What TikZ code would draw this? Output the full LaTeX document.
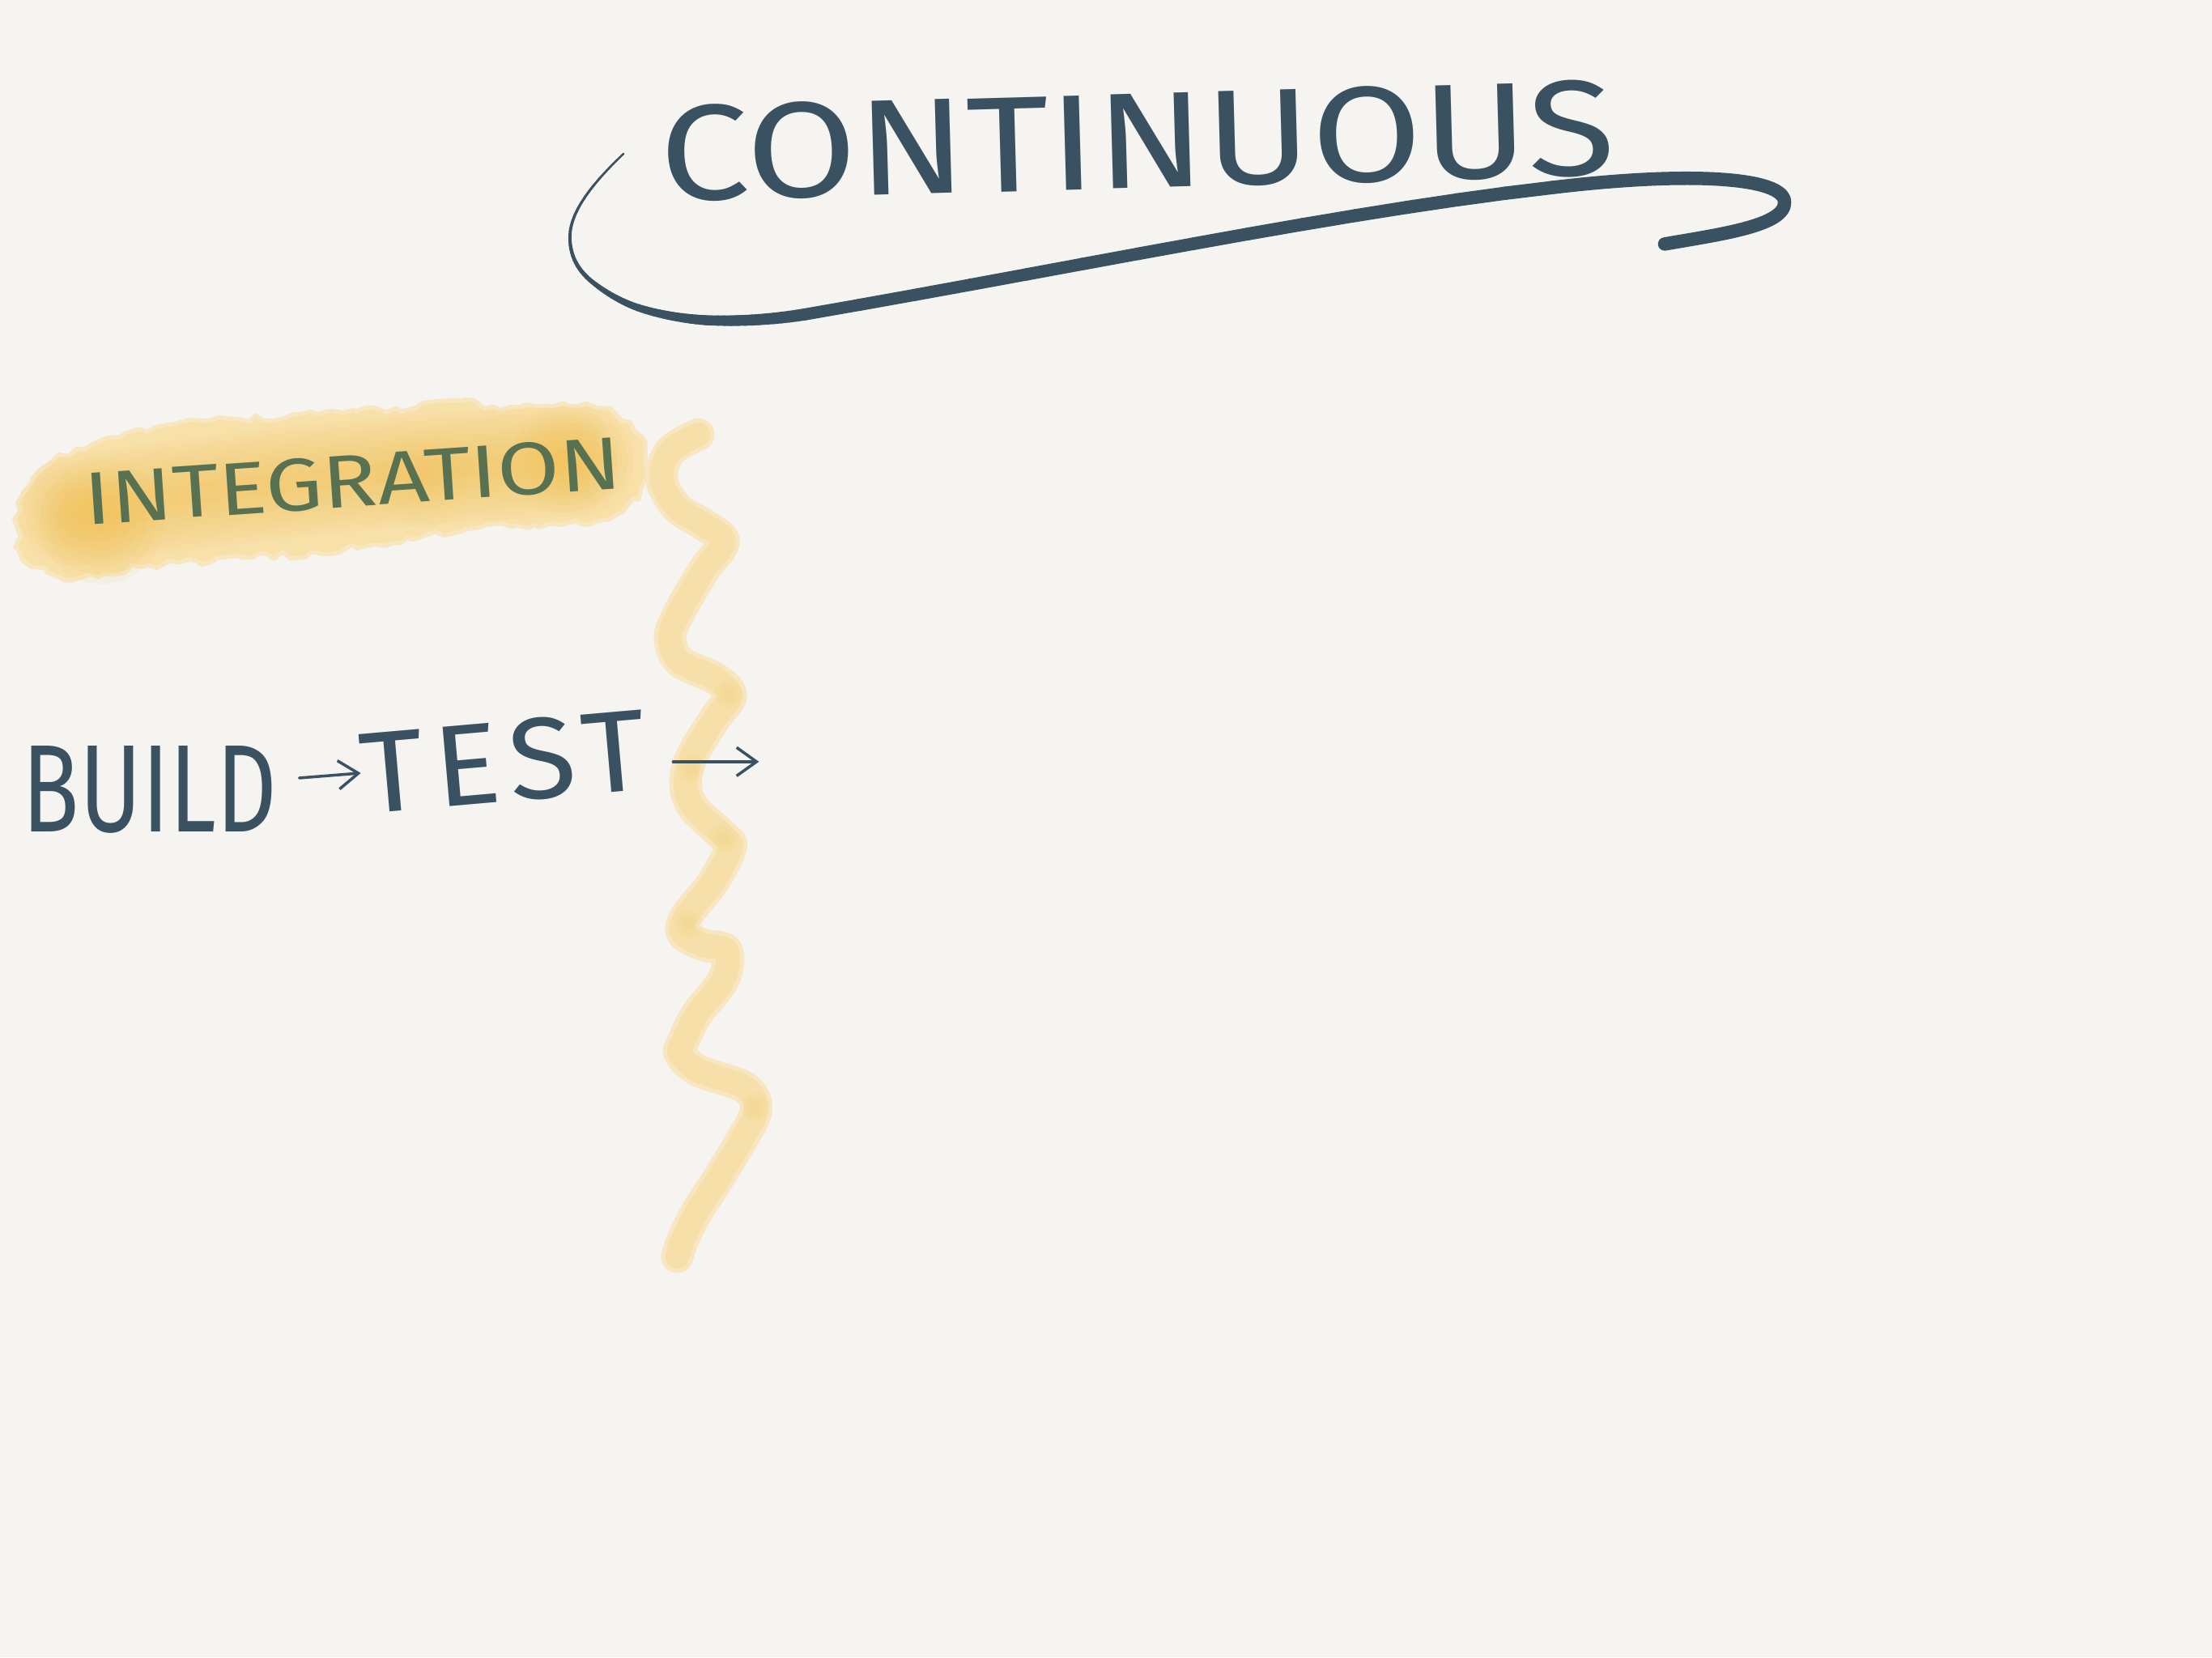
\documentclass[tikz,border=0pt]{standalone}
\usepackage{fontspec}
\usepackage{graphicx}
\setmainfont{Fira Sans}
\usetikzlibrary{arrows.meta,decorations.pathmorphing}
\definecolor{paper}{HTML}{F5F4F0}
\definecolor{slate}{HTML}{3A5161}
\definecolor{moss}{HTML}{587150}
\definecolor{glow}{HTML}{F2BE48}
\definecolor{glowmid}{HTML}{F8E0A9}
\definecolor{glowlight}{HTML}{F8E6C0}
\definecolor{trail}{HTML}{F6DFA8}
\begin{document}
\begin{tikzpicture}[x=0.017423cm, y=-0.017423cm,
  word/.style={inner sep=0pt, outer sep=0pt, anchor=center},
  ink/.style={draw=slate, line cap=round, line join=round},
  arr/.style={draw=slate, line cap=round, line join=round, line width=1pt,
    -{Straight Barb[length=7pt,width=10pt,line width=1pt]}},
  brushstroke/.style={line cap=round, line join=round},
  ragged/.style={decorate, decoration={random steps, segment length=3pt, amplitude=1.4pt}},
]
% paper
\fill[paper] (0,0) rectangle (1568,1175);
\useasboundingbox (0,0) rectangle (1568,1175);

% highlighter patch behind the second word: pale ragged patch, then a soft build-up of colour
\filldraw[fill=glowmid, draw=glowlight, line width=1.5pt, line join=round, ragged]
  plot[smooth cycle, tension=0.5] coordinates {
  (12,372) (18,348) (34,330) (55,318) (80,310) (110,303) (150,298) (200,297)
  (230,292) (260,289) (290,290) (320,284) (350,288) (380,288) (422,289) (446,300)
  (457,322) (454,346) (441,363) (420,371) (380,372) (340,374) (300,380) (260,387)
  (220,392) (180,395) (140,398) (100,402) (70,409) (46,411) (26,402) (14,390)};
\foreach \w in {78,70,...,14}
  \draw[glow, brushstroke, opacity=0.065, line width=\w*0.4957pt]
    (52,362) .. controls (150,347) and (250,336) .. (330,331) .. controls (380,328) .. (410,327);
\foreach \r in {44,38,...,2} {
  \fill[glow, opacity=0.075] (72,370) circle (\r);
  \fill[glow, opacity=0.07] (400,326) circle (\r*0.85);
}
\foreach \r in {34,28,...,4}
  \fill[glow, opacity=0.035] (300,340) circle (\r);

% wavy highlighter trail: pale edge under a slightly deeper core
\draw[glowlight, brushstroke, line width=23*0.4957pt] plot[smooth, tension=0.55] coordinates {
  (495,308) (475,320) (469,340) (480,360) (499,372) (513,384) (499,404) (480,437)
  (475,453) (482,469) (507,481) (518,493) (507,509) (490,537) (486,557) (492,573)
  (513,593) (518,601) (505,626) (486,650) (484,662) (499,670) (515,674) (513,694)
  (494,719) (484,739) (482,747) (495,759) (528,771) (536,787) (524,811) (507,839)
  (494,859) (484,879) (480,891)};
\draw[trail, brushstroke, line width=17*0.4957pt] plot[smooth, tension=0.55] coordinates {
  (495,308) (475,320) (469,340) (480,360) (499,372) (513,384) (499,404) (480,437)
  (475,453) (482,469) (507,481) (518,493) (507,509) (490,537) (486,557) (492,573)
  (513,593) (518,601) (505,626) (486,650) (484,662) (499,670) (515,674) (513,694)
  (494,719) (484,739) (482,747) (495,759) (528,771) (536,787) (524,811) (507,839)
  (494,859) (484,879) (480,891)};
\foreach \p in {(516,492),(513,594),(488,655),(535,785),(490,545)}
  \foreach \r in {10,7,4}
    \fill[glow, opacity=0.06] \p circle (\r);

% swoosh under the title: the tapering part is laid down as short chords of
% cubic segments whose width grows steadily, the rest as one thick stroke
\coordinate (G) at (1100,133);
\coordinate (H) at (1265,143);
\coordinate (I) at (1180,173);
\foreach \ax/\ay/\bx/\by/\cx/\cy/\dx/\dy/\wa/\wb in {
    442/109/420/130/404/150/404/168/0.7/1.1,
    404/168/404/182/410/192/420/200/1.1/1.6,
    420/200/430/208/442/215/455/219/1.6/2.6,
    455/219/468/223/484/226/500/227/2.6/3.5,
    500/227/520/228/545/227/570/223/3.5/4.2,
    570/223/750/192/950/150/1100/133/4.2/4.7} {
  \foreach \i in {1,...,14} {
    \pgfmathsetmacro\ta{(\i-1)/14}
    \pgfmathsetmacro\tb{\i/14}
    \pgfmathsetmacro\xa{(1-\ta)^3*\ax+3*(1-\ta)^2*\ta*\bx+3*(1-\ta)*\ta^2*\cx+\ta^3*\dx}
    \pgfmathsetmacro\ya{(1-\ta)^3*\ay+3*(1-\ta)^2*\ta*\by+3*(1-\ta)*\ta^2*\cy+\ta^3*\dy}
    \pgfmathsetmacro\xb{(1-\tb)^3*\ax+3*(1-\tb)^2*\tb*\bx+3*(1-\tb)*\tb^2*\cx+\tb^3*\dx}
    \pgfmathsetmacro\yb{(1-\tb)^3*\ay+3*(1-\tb)^2*\tb*\by+3*(1-\tb)*\tb^2*\cy+\tb^3*\dy}
    \pgfmathsetmacro\wd{\wa+(\wb-\wa)*(\ta+\tb)/2}
    \draw[ink, line width=\wd pt] (\xa,\ya) -- (\xb,\yb);
  }
}
\draw[ink, line width=4.7pt] (G) .. controls (1200,121) and (1264,126) .. (H)
  .. controls (1266,160) and (1220,166) .. (I);

% words
\node[word, text=slate, rotate=1.6] (cont) at (806,100) {\resizebox{11.8cm}{1.18cm}{CONTINUOUS}};
\node[word, text=moss, rotate=3.9] (integ) at (250,341) {\resizebox{6.64cm}{0.645cm}{INTEGRATION}};
\node[word, text=slate] (build) at (106,560) {\resizebox{3.14cm}{1.06cm}{BUILD}};
\node[word, text=slate, rotate=5] (test) at (357,540) {\resizebox{3.54cm}{1.0cm}{\addfontfeature{LetterSpace=8}TEST}};

% arrows between the steps
\coordinate (next) at (538,540);
\draw[arr, shorten <=0.28cm] (build) -- (test);
\draw[arr, shorten <=0.33cm] (test.east |- next) -- (next);
\end{tikzpicture}
\end{document}
